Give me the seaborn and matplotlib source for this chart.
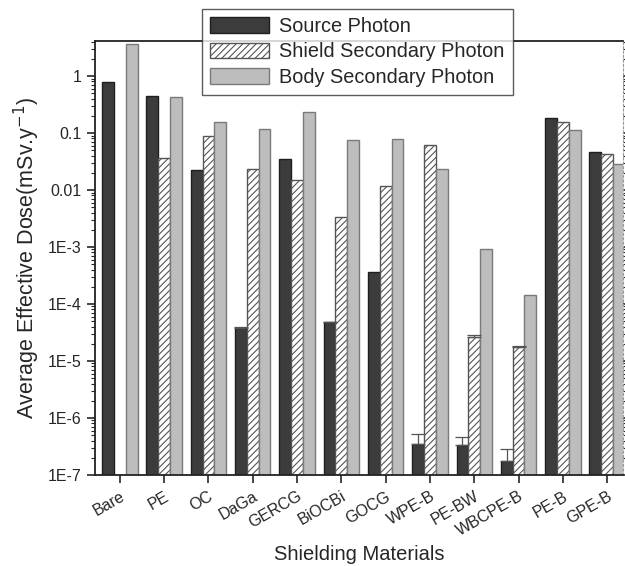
import numpy as np
import pandas as pd
import matplotlib
matplotlib.use("Agg")
import matplotlib.pyplot as plt
import seaborn as sns
from matplotlib.patches import Patch

materials = ["Bare", "PE", "OC", "DaGa", "GERCG", "BiOCBi", "GOCG",
             "WPE-B", "PE-BW", "WBCPE-B", "PE-B", "GPE-B"]
components = ["Source Photon", "Shield Secondary Photon", "Body Secondary Photon"]

source = [0.79, 0.45, 0.022, 3.8e-5, 0.035, 4.8e-5, 3.6e-4,
          3.5e-7, 3.4e-7, 1.76e-7, 0.18, 0.046]
shield = [np.nan, 0.036, 0.087, 0.023, 0.015, 3.4e-3, 0.0118,
          0.061, 2.6e-5, 1.78e-5, 0.158, 0.042]
body = [3.6, 0.42, 0.158, 0.115, 0.235, 0.075, 0.078,
        0.023, 9.3e-4, 1.44e-4, 0.112, 0.029]

# upper-only error bars (0 = not visible)
source_err = [0, 0, 0, 0.2e-5, 0, 0.1e-5, 0,
              1.7e-7, 1.3e-7, 1.1e-7, 0, 0]
shield_err = [0, 0, 0, 0, 0, 0, 0,
              0, 0.3e-5, 0.05e-5, 0, 0]
body_err = [0] * 12

df = pd.DataFrame({
    "Material": materials * 3,
    "Component": np.repeat(components, len(materials)),
    "Dose": source + shield + body,
    "Err": source_err + shield_err + body_err,
})

sns.set_style("ticks")
plt.rcParams["font.family"] = ["Liberation Sans", "DejaVu Sans"]
plt.rcParams["hatch.linewidth"] = 0.8
plt.rcParams["hatch.color"] = "#444444"

fig = plt.figure(figsize=(6.25, 5.66), dpi=100)
ax = fig.add_axes([0.152, 0.161, 0.845, 0.7666])

styles = {
    "Source Photon": dict(facecolor="#3c3c3c", edgecolor="#1e1e1e", hatch=None),
    "Shield Secondary Photon": dict(facecolor="white", edgecolor="#555555", hatch="/////"),
    "Body Secondary Photon": dict(facecolor="#bdbdbd", edgecolor="#7a7a7a", hatch=None),
}

sns.barplot(data=df.dropna(), x="Material", y="Dose", hue="Component",
            order=materials, hue_order=components, width=0.8,
            errorbar=None, legend=False, ax=ax, log_scale=(False, True))

for cont, comp in zip(ax.containers, components):
    st = styles[comp]
    sub = df[df["Component"] == comp].dropna().reset_index(drop=True)
    for patch, (_, row) in zip(cont, sub.iterrows()):
        patch.set_facecolor(st["facecolor"])
        patch.set_edgecolor(st["edgecolor"])
        patch.set_linewidth(1.0)
        if st["hatch"]:
            patch.set_hatch(st["hatch"])
        if row["Err"] > 0:
            xc = patch.get_x() + patch.get_width() / 2
            ax.errorbar(xc, patch.get_height(), yerr=[[0], [row["Err"]]], fmt="none",
                        ecolor="#555555", elinewidth=0.9, capsize=5, capthick=0.9)

ax.set_yscale("log")
ax.set_ylim(1e-7, 4.1)
ax.set_xlim(-0.56, 11.36)
ax.set_yticks([1e-7, 1e-6, 1e-5, 1e-4, 1e-3, 0.01, 0.1, 1])
ax.set_yticklabels(["1E-7", "1E-6", "1E-5", "1E-4", "1E-3", "0.01", "0.1", "1"])
ax.tick_params(axis="y", which="major", direction="out", length=6, width=1.2,
               labelsize=11.5, right=True)
ax.tick_params(axis="y", which="minor", direction="out", length=3, width=0.8, right=True)
ax.tick_params(axis="x", direction="out", length=6, width=1.2, labelsize=11.5, pad=4)
plt.setp(ax.get_xticklabels(), rotation=30, ha="right", rotation_mode="anchor")

for s in ["left", "bottom", "top"]:
    ax.spines[s].set_linewidth(1.3)
    ax.spines[s].set_color("#222222")
ax.spines["right"].set_color("#999999")
ax.spines["right"].set_linestyle((0, (2, 2)))

ax.set_xlabel("Shielding Materials", fontsize=14.5, labelpad=4)
ax.set_ylabel("Average Effective Dose(mSv.y$^{-1}$)", fontsize=15.5, labelpad=4)

handles = [Patch(facecolor=styles[c]["facecolor"], edgecolor=styles[c]["edgecolor"],
                 hatch=styles[c]["hatch"], label=c) for c in components]
leg = fig.legend(handles=handles, loc="upper left", bbox_to_anchor=(0.323, 0.984),
                 borderaxespad=0, fontsize=14.3, frameon=True, fancybox=False,
                 edgecolor="#333333", handlelength=3.0, handleheight=0.85,
                 handletextpad=0.5, borderpad=0.4, labelspacing=0.32)
leg.get_frame().set_linewidth(1.0)

fig.savefig("out.png", dpi=100)
